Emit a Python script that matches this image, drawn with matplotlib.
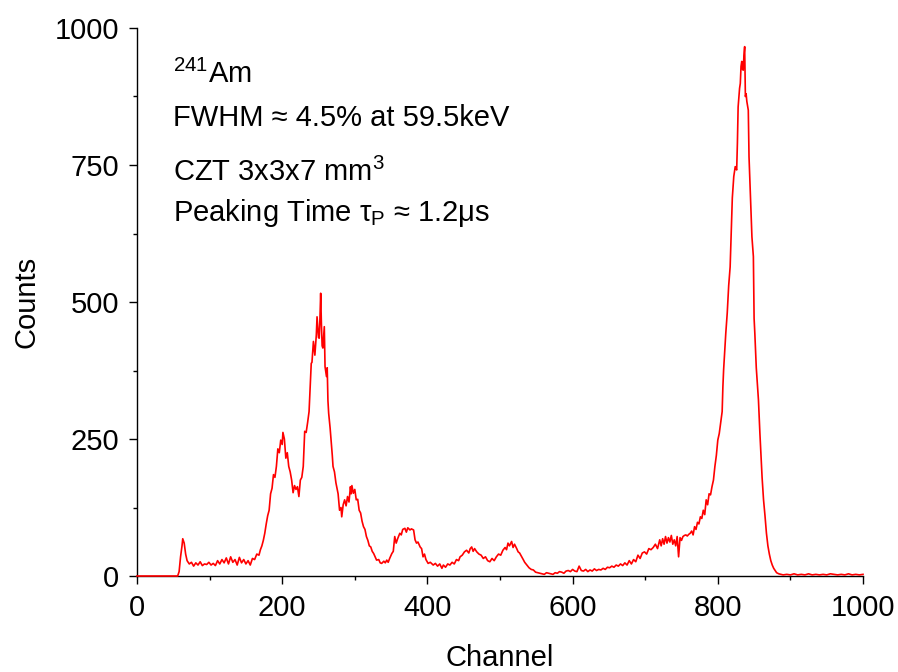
import matplotlib
matplotlib.use("Agg")
import matplotlib.pyplot as plt
from matplotlib.ticker import MultipleLocator

plt.rcParams['font.family'] = ['Liberation Sans', 'DejaVu Sans']
plt.rcParams['mathtext.fontset'] = 'custom'
plt.rcParams['mathtext.rm'] = 'Liberation Sans'
plt.rcParams['mathtext.it'] = 'Liberation Sans:italic'
plt.rcParams['mathtext.bf'] = 'Liberation Sans:bold'

# ---- data (channel, counts) ----
channel = [
    0, 56, 58, 60, 62, 63, 65, 67, 69, 72, 75, 78, 81, 84, 87, 90, 93, 96, 99,
    102, 105, 108, 111, 114, 117, 120, 123, 126, 129, 132, 135, 138, 141, 144,
    147, 150, 153, 156, 159, 162, 165, 168, 170, 172, 174, 176, 178, 180, 182,
    184, 186, 188, 190, 192, 194, 196, 198, 200, 201, 203, 205, 207, 209, 211,
    213, 215, 217, 219, 221, 223, 225, 227, 229, 231, 233, 235, 237, 238, 240,
    241, 243, 245, 247, 248, 250, 251, 252, 253, 254, 255, 256, 258, 259, 261,
    262, 263, 264, 266, 267, 269, 270, 272, 274, 275, 277, 279, 281, 282, 284,
    286, 288, 290, 292, 294, 295, 296, 298, 300, 302, 304, 306, 308, 310, 312,
    314, 316, 318, 320, 322, 324, 326, 328, 330, 333, 335, 337, 340, 342, 344,
    346, 348, 351, 353, 355, 357, 359, 362, 364, 366, 369, 371, 373, 376, 378,
    381, 383, 385, 387, 390, 392, 394, 396, 398, 401, 404, 408, 411, 414, 417,
    420, 422, 425, 428, 431, 434, 437, 440, 443, 445, 448, 451, 454, 457, 459,
    461, 463, 465, 468, 471, 474, 477, 480, 483, 486, 489, 492, 495, 498, 501,
    504, 507, 509, 511, 513, 516, 518, 520, 523, 525, 527, 530, 532, 534, 537,
    540, 543, 546, 549, 552, 555, 558, 561, 564, 567, 570, 573, 576, 579, 582,
    585, 588, 591, 594, 597, 600, 603, 606, 609, 612, 615, 618, 621, 624, 627,
    630, 633, 636, 639, 642, 645, 648, 651, 654, 657, 660, 663, 666, 669, 672,
    675, 678, 681, 684, 687, 690, 693, 696, 699, 702, 705, 708, 711, 714, 717,
    720, 722, 724, 726, 728, 730, 732, 734, 736, 738, 740, 742, 744, 746, 748,
    750, 752, 754, 756, 758, 760, 762, 764, 766, 768, 770, 772, 774, 776, 778,
    780, 782, 784, 786, 788, 790, 792, 794, 796, 798, 800, 802, 804, 806, 807,
    808, 810, 811, 813, 815, 817, 819, 820, 822, 824, 826, 827, 828, 830, 831,
    832, 833, 834, 835, 836, 837, 838, 839, 840, 842, 843, 845, 847, 849, 850,
    851, 853, 856, 858, 860, 861, 863, 865, 867, 869, 871, 873, 875, 877, 879,
    881, 884, 887, 890, 895, 900, 905, 910, 915, 920, 925, 930, 935, 940, 945,
    950, 955, 960, 965, 970, 975, 980, 985, 990, 995, 1000,
]
counts = [
    0, 0, 8, 35, 55, 68, 60, 40, 28, 22, 25, 18, 24, 20, 26, 19, 22, 21, 25,
    20, 23, 19, 28, 22, 30, 24, 33, 22, 35, 25, 30, 20, 34, 24,
    30, 22, 28, 20, 32, 30, 40, 38, 48, 55, 65, 78, 95, 110, 120,
    150, 160, 185, 180, 200, 232, 225, 248, 240, 262, 250, 215, 225, 200, 190,
    175, 152, 165, 158, 163, 145, 175, 180, 200, 264, 262, 280, 300, 330, 388,
    390, 428, 403, 440, 473, 435, 434, 470, 516, 460, 420, 416, 455, 382, 364,
    380, 320, 297, 270, 254, 220, 200, 190, 170, 163, 150, 120, 125, 108, 130,
    139, 128, 145, 135, 163, 150, 165, 151, 158, 139, 140, 120, 115, 100, 90,
    85, 72, 65, 55, 53, 45, 41, 35, 29, 30, 24, 23, 27, 24, 29,
    25, 32, 41, 45, 72, 60, 68, 78, 75, 85, 87, 80, 88, 84, 86,
    84, 66, 60, 62, 53, 50, 35, 40, 30, 23, 25, 20, 23, 18, 22,
    14, 20, 16, 22, 20, 25, 22, 30, 28, 35, 38, 44, 47, 42, 50,
    53, 45, 50, 44, 40, 38, 32, 35, 28, 26, 32, 28, 35, 40, 38,
    47, 52, 48, 60, 55, 63, 52, 58, 50, 44, 42, 35, 30, 25, 20,
    15, 12, 11, 7, 6, 5, 4, 3, 6, 5, 4, 3, 6, 5, 8,
    7, 5, 9, 10, 8, 12, 9, 8, 18, 10, 9, 12, 8, 11, 9,
    13, 10, 12, 11, 14, 12, 16, 15, 18, 16, 20, 18, 22, 19, 24,
    20, 28, 22, 30, 26, 38, 32, 42, 44, 40, 50, 48, 52, 58, 50,
    66, 55, 68, 58, 72, 60, 70, 62, 74, 58, 66, 55, 72, 35, 70,
    65, 72, 74, 75, 73, 76, 78, 82, 75, 90, 85, 98, 95, 108, 105,
    120, 112, 139, 130, 150, 148, 163, 175, 200, 220, 248, 260, 280, 300, 345,
    376, 420, 443, 480, 530, 564, 650, 690, 729, 747, 741, 790, 856, 890, 899,
    930, 939, 925, 923, 950, 966, 875, 880, 866, 850, 765, 692, 619, 583, 470,
    443, 380, 321, 260, 206, 180, 139, 110, 78, 55, 40, 28, 20, 14, 10,
    6, 4, 3, 2, 3, 2, 4, 2, 3, 2, 4, 2, 3, 2, 3,
    2, 4, 3, 2, 3, 2, 4, 2, 3, 2, 3,
]

x_ticks = [0, 200, 400, 600, 800, 1000]
y_ticks = [0, 250, 500, 750, 1000]

fig = plt.figure(figsize=(8.98, 6.72), dpi=100)
ax = fig.add_axes([137/898, 1 - 576/672, (863-137)/898, (576-28)/672])

ax.plot(channel, counts, color='#ff0000', lw=1.2, clip_on=False, zorder=5)

ax.set_xlim(0, 1000)
ax.set_ylim(0, 1000)
ax.set_xticks(x_ticks)
ax.set_yticks(y_ticks)
ax.xaxis.set_minor_locator(MultipleLocator(100))
ax.yaxis.set_minor_locator(MultipleLocator(125))

for s in ['top', 'right']:
    ax.spines[s].set_visible(False)
for s in ['left', 'bottom']:
    ax.spines[s].set_linewidth(1.0)

ax.tick_params(which='major', direction='out', length=6, width=1.0,
               labelsize=21, pad=7)
ax.tick_params(which='minor', direction='out', length=3, width=1.0)

ax.set_xlabel('Channel', fontsize=21, labelpad=16)
ax.set_ylabel('Counts', fontsize=21, labelpad=10)

tx = 173/898
fig.text(tx, 1 - 83/672, r'$^{241}$Am', fontsize=21, va='baseline', ha='left')
fig.text(tx, 1 - 126/672, 'FWHM ≈ 4.5% at 59.5keV', fontsize=21,
         va='baseline', ha='left')
fig.text(tx, 1 - 181/672, r'CZT 3x3x7 mm$^{3}$', fontsize=21,
         va='baseline', ha='left')
fig.text(tx, 1 - 221/672, r'Peaking Time τ$_{\mathrm{P}}$ ≈ 1.2μs',
         fontsize=21, va='baseline', ha='left')

fig.savefig('out.png', dpi=100)
